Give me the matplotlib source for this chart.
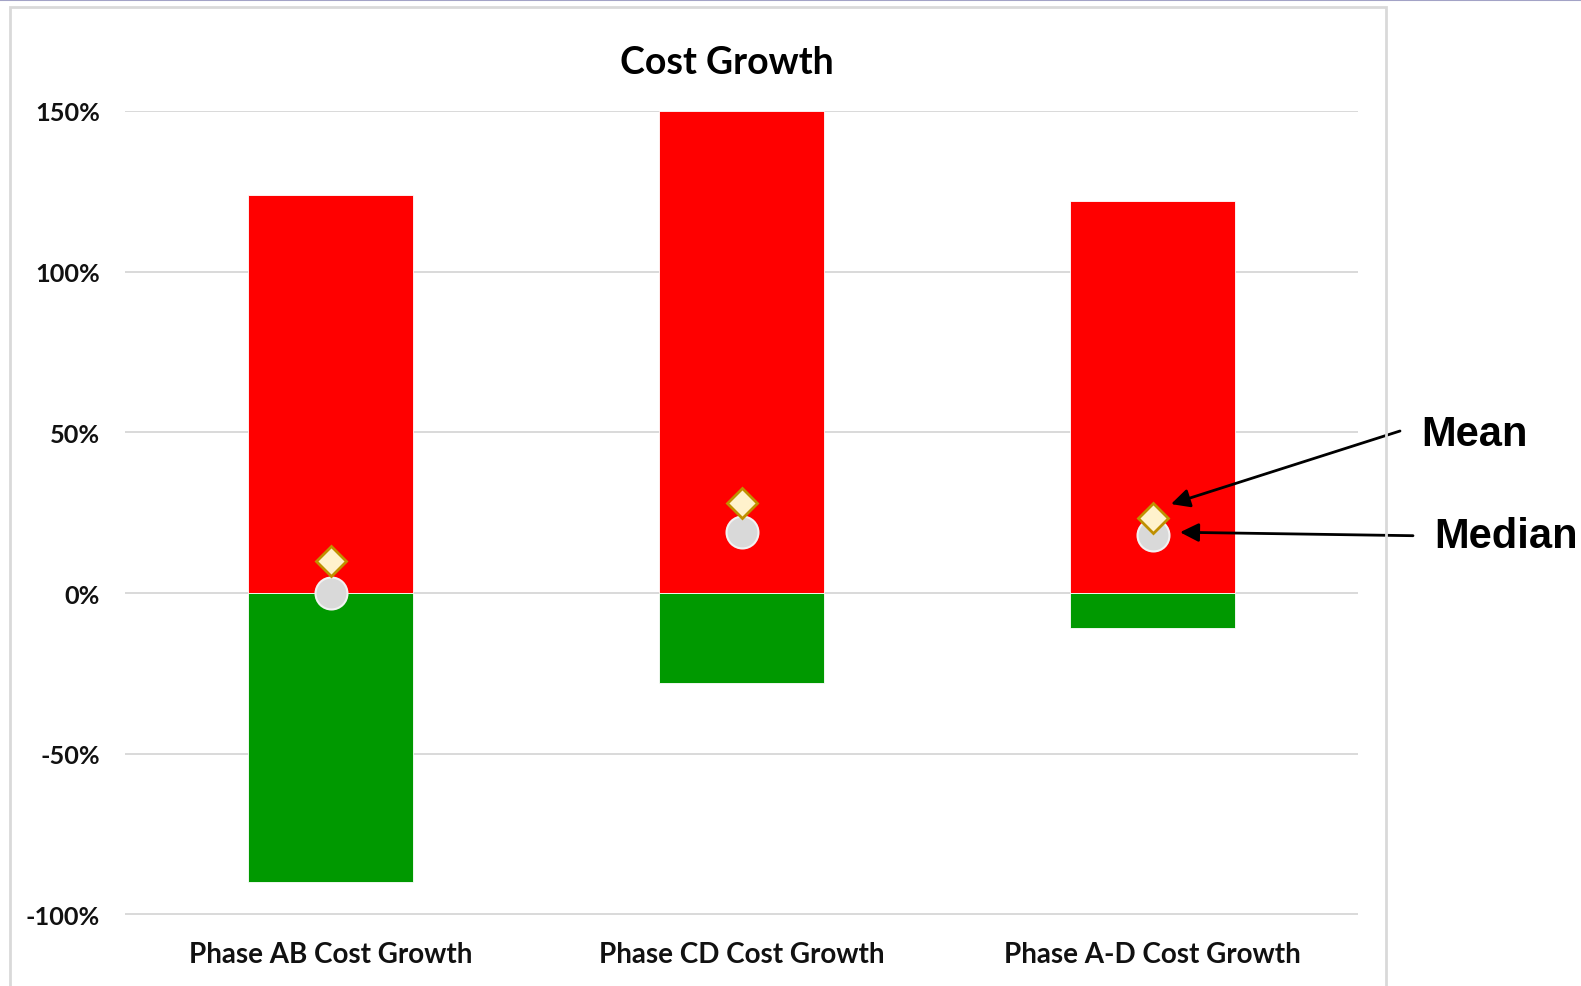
import matplotlib
matplotlib.use("Agg")
import matplotlib.pyplot as plt
import matplotlib.transforms as mtransforms
from matplotlib.patches import Rectangle
from matplotlib.lines import Line2D
from matplotlib.ticker import FuncFormatter

# cost growth ranges per phase (percent)
categories = ["Phase AB Cost Growth", "Phase CD Cost Growth", "Phase A-D Cost Growth"]
max_growth = [124, 150, 122]
min_growth = [-90, -28, -11]
mean_growth = [10, 28, 23.5]
median_growth = [0, 19, 18]
y_ticks = [-100, -50, 0, 50, 100, 150]

W, H = 1581, 987
fig = plt.figure(figsize=(W / 100, H / 100), dpi=100)
ax = fig.add_axes([125 / W, 1 - 915.5 / H, (1358 - 125) / W, (915.5 - 112) / H])

x = list(range(len(categories)))
ax.bar(x, max_growth, width=0.4, color="#ff0000", edgecolor="#ffffff", linewidth=0.6, zorder=2)
ax.bar(x, min_growth, width=0.4, color="#009900", edgecolor="#ffffff", linewidth=0.6, zorder=2)
ax.plot(x, median_growth, "o", ms=23, mfc="#d9d9d9", mec="#f2f2f2", mew=1.5, zorder=4)
ax.plot(x, mean_growth, "D", ms=15, mfc="#fff2cc", mec="#bf9000", mew=2, zorder=5)

ax.set_xlim(-0.5, 2.5)
ax.set_ylim(-100, 150)
ax.set_yticks(y_ticks)
ax.yaxis.set_major_formatter(FuncFormatter(lambda v, p: f"{v:.0f}%"))
ax.set_xticks(x)
ax.set_xticklabels(categories)
ax.grid(axis="y", color="#d9d9d9", linewidth=1.4, zorder=1)
ax.set_axisbelow(True)
for s in ax.spines.values():
    s.set_visible(False)
ax.tick_params(axis="both", length=0)
ax.tick_params(axis="y", pad=18)
ax.tick_params(axis="x", pad=19)
for lab in ax.get_yticklabels():
    lab.set_fontfamily("Lato")
    lab.set_fontweight("bold")
    lab.set_fontsize(18.2)
    lab.set_color("#111111")
for lab in ax.get_xticklabels():
    lab.set_fontfamily("Lato")
    lab.set_fontweight("bold")
    lab.set_fontsize(20)
    lab.set_color("#111111")

fig.text(727 / W, 1 - 62.5 / H, "Cost Growth", ha="center", va="center",
         fontsize=27, fontweight="bold", family="Lato", color="#000000")

# chart frame and the thin line along the top edge
fig.patches.append(Rectangle((10 / W, -0.05), (1386 - 10) / W, 1.05 - 8 / H,
                             transform=fig.transFigure, fill=False,
                             edgecolor="#d9d9d9", linewidth=2))
fig.lines.append(Line2D([0, 1], [1 - 0.6 / H, 1 - 0.6 / H], transform=fig.transFigure,
                        color="#a3a3c6", linewidth=1.5))

# callouts for the markers on the last bar
fig.text(1421 / W, 1 - 434.6 / H, "Mean", ha="left", va="center",
         fontsize=30, fontweight="bold", family="Liberation Sans")
fig.text(1434 / W, 1 - 537.4 / H, "Median", ha="left", va="center",
         fontsize=30, fontweight="bold", family="Liberation Sans")

mean_tip = mtransforms.offset_copy(ax.transData, fig=fig, x=18.5, y=13.5, units="dots")
median_tip = mtransforms.offset_copy(ax.transData, fig=fig, x=27.5, y=3, units="dots")
arrow = dict(arrowstyle="-|>", color="black", lw=2, mutation_scale=28, shrinkA=0, shrinkB=0)
ax.annotate("", xy=(2, mean_growth[2]), xycoords=mean_tip,
            xytext=(1400, H - 432), textcoords="figure pixels",
            arrowprops=arrow, annotation_clip=False)
ax.annotate("", xy=(2, median_growth[2]), xycoords=median_tip,
            xytext=(1413, H - 536.7), textcoords="figure pixels",
            arrowprops=arrow, annotation_clip=False)

fig.savefig("out.png", dpi=100)
